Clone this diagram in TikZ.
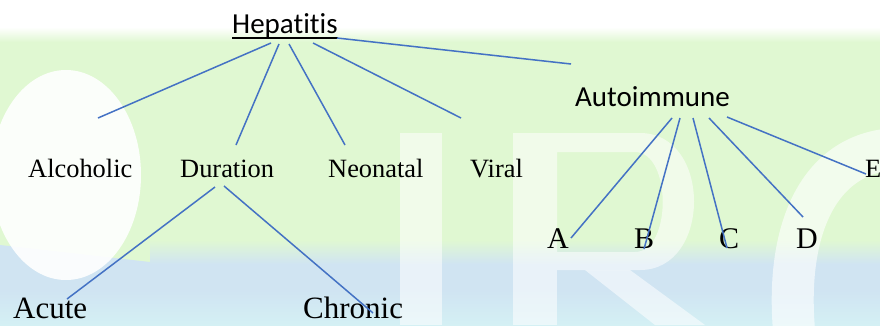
\documentclass[tikz,border=0pt]{standalone}
\usepackage{fontspec}
\setmainfont{Liberation Serif}
\newfontfamily\calib[Ligatures={NoCommon}]{Carlito}
\usetikzlibrary{calc}
\definecolor{bggreen}{RGB}{224,248,210}
\definecolor{bgblue}{RGB}{208,228,242}
\definecolor{bgcyan}{RGB}{212,240,244}
\definecolor{linkblue}{RGB}{68,114,196}
\tikzset{
  lbl/.style={inner sep=0pt, anchor=base west, font=\fontsize{26.4}{30}\selectfont},
  big/.style={inner sep=0pt, anchor=base west, font=\fontsize{31}{34}\selectfont},
  letter/.style={inner sep=0pt, anchor=base west, font=\fontsize{30}{34}\selectfont},
  head/.style={inner sep=0pt, anchor=base west, font=\calib\fontsize{29}{32}\selectfont},
  link/.style={draw=linkblue, line width=1.5pt},
  wm/.style={fill=white, fill opacity=0.55}
}
\begin{document}
\begin{tikzpicture}[x=1pt,y=-1pt]
\useasboundingbox (0,0) rectangle (880,325);
% background watermark
\begin{scope}
\clip (0,0) rectangle (880,325);
\fill[bggreen] (0,0) rectangle (880,325);
\fill[white] (0,0) rectangle (880,28);
\shade[top color=white, bottom color=bggreen] (0,27) rectangle (880,42);
\fill[bgblue] (0,245) -- (150,262) -- (880,262) -- (880,325) -- (0,325) -- cycle;
\shade[top color=bgblue, bottom color=bgcyan] (0,290) rectangle (880,325);
\shade[top color=bggreen, bottom color=bgblue] (150,240) rectangle (880,264);
\fill[white, fill opacity=0.9] (66,175) ellipse [x radius=75, y radius=105];
\fill[wm] (400,133) rectangle (442,325);
\fill[wm] (513,133) rectangle (557,325);
\fill[wm, even odd rule] (557,133) -- (640,133) .. controls (712,133) and (712,270) .. (640,270) -- (557,270) -- cycle
  (557,152) -- (635,152) .. controls (672,152) and (672,252) .. (635,252) -- (557,252) -- cycle;
\fill[wm] (585,270) -- (630,270) -- (705,325) -- (655,325) -- cycle;
\draw[white, draw opacity=0.6, line width=42pt] (794,330) .. controls (786,235) and (815,160) .. (885,150);
\end{scope}
% nodes
\node[head] (hep) at (232,33) {Hepatitis};
\draw[line width=2pt] ($(hep.base west)+(0,4.5)$) -- ($(hep.base east)+(0,4.5)$);
\node[head] (aut) at (575,106) {Autoimmune};
\node[lbl] (alc) at (28,177) {Alcoholic};
\node[lbl] (dur) at (180,177) {Duration};
\node[lbl] (neo) at (328,177) {Neonatal};
\node[lbl] (vir) at (470,177) {Viral};
\node[big] (acu) at (13,318) {Acute};
\node[big] (chr) at (303,318) {Chronic};
\node[letter] (a) at (547,248) {A};
\node[letter] (b) at (634,248) {B};
\node[letter] (c) at (719,248) {C};
\node[letter] (d) at (796,248) {D};
\node[lbl] (e) at (865,177) {E};
% connectors
\draw[link] ($(hep.base west)+(39,10)$) -- ($(alc.base west)+(70,-59)$);
\draw[link] ($(hep.base west)+(47,11)$) -- ($(dur.base west)+(56,-32)$);
\draw[link] ($(hep.base west)+(57,11)$) -- ($(neo.base west)+(17,-32)$);
\draw[link] ($(hep.base west)+(81,10)$) -- ($(vir.base west)+(-9,-59)$);
\draw[link] ($(hep.base west)+(105,5)$) -- ($(aut.base west)+(-4,-42)$);
\draw[link] ($(dur.base west)+(35,10)$) -- ($(acu.base west)+(54,-19)$);
\draw[link] ($(dur.base west)+(44,9)$) -- ($(chr.base west)+(70,-5)$);
\draw[link] ($(aut.base west)+(97,12)$) -- ($(a.base west)+(24,-10)$);
\draw[link] ($(aut.base west)+(105,12)$) -- ($(b.base west)+(10,1)$);
\draw[link] ($(aut.base west)+(118,12)$) -- ($(c.base west)+(8,0)$);
\draw[link] ($(aut.base west)+(134,12)$) -- ($(d.base west)+(7,-31)$);
\draw[link] ($(aut.base west)+(152,11)$) -- ($(e.base west)+(1,-3)$);
\end{tikzpicture}
\end{document}
